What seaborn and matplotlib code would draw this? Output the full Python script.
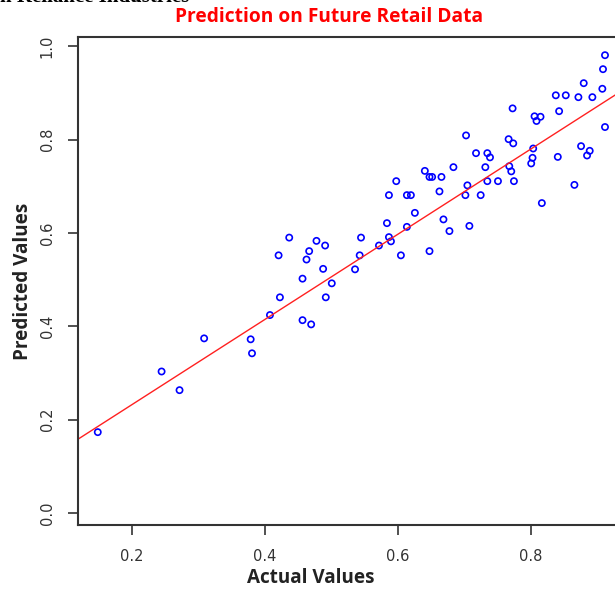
import numpy as np
import pandas as pd
import seaborn as sns
import matplotlib.pyplot as plt

# actual vs predicted values
actual = [0.912, 0.909, 0.880, 0.908, 0.838, 0.853, 0.872, 0.893, 0.773, 0.843,
          0.806, 0.815, 0.809, 0.912, 0.703, 0.767, 0.774, 0.876, 0.889, 0.885,
          0.804, 0.718, 0.735, 0.739, 0.841, 0.803, 0.801, 0.684, 0.732, 0.768,
          0.771, 0.641, 0.648, 0.652, 0.666, 0.598, 0.735, 0.751, 0.775, 0.705,
          0.866, 0.663, 0.587, 0.614, 0.620, 0.702, 0.725, 0.817, 0.626, 0.669,
          0.584, 0.614, 0.708, 0.678, 0.545, 0.587, 0.590, 0.572, 0.648, 0.543,
          0.605, 0.536,
          0.437, 0.478, 0.491, 0.467, 0.421, 0.463, 0.488, 0.457, 0.501, 0.423,
          0.492, 0.408, 0.457, 0.470, 0.309, 0.379, 0.381, 0.245, 0.272, 0.149]
predicted = [0.981, 0.951, 0.921, 0.909, 0.895, 0.895, 0.891, 0.891, 0.867, 0.861,
             0.850, 0.849, 0.840, 0.827, 0.809, 0.801, 0.792, 0.786, 0.776, 0.766,
             0.781, 0.771, 0.771, 0.762, 0.763, 0.761, 0.749, 0.741, 0.741, 0.743,
             0.732, 0.733, 0.720, 0.720, 0.720, 0.711, 0.711, 0.711, 0.711, 0.702,
             0.703, 0.689, 0.681, 0.681, 0.681, 0.681, 0.681, 0.664, 0.643, 0.629,
             0.621, 0.613, 0.615, 0.604, 0.590, 0.591, 0.582, 0.573, 0.561, 0.552,
             0.552, 0.522,
             0.590, 0.583, 0.573, 0.561, 0.552, 0.543, 0.523, 0.502, 0.492, 0.462,
             0.462, 0.424, 0.413, 0.404, 0.374, 0.372, 0.342, 0.303, 0.263, 0.173]
# fitted line shown on the chart (from the model, not refit here)
fit_intercept = 0.049
fit_slope = 0.913
x_ticks = [0.2, 0.4, 0.6, 0.8]
y_ticks = [0.0, 0.2, 0.4, 0.6, 0.8, 1.0]

df = pd.DataFrame({'actual': actual, 'predicted': predicted})

sns.set_style('white')
plt.rcParams['font.family'] = ['DejaVu Sans']

fig = plt.figure(figsize=(6.15, 5.9), dpi=100)
# plot box runs off the right edge like in the original screenshot
ax = fig.add_axes([0.1273, 0.1102, 0.8867, 0.8271])

sns.scatterplot(data=df, x='actual', y='predicted', ax=ax, marker='o', s=20,
                facecolors='none', edgecolor='blue', linewidth=1.2)
ax.axline((0, fit_intercept), slope=fit_slope, color='#ff2020', linewidth=1.0)

ax.set_xlim(0.1197, 0.94)
ax.set_ylim(-0.026, 1.02)
ax.set_xticks(x_ticks)
ax.set_yticks(y_ticks)
ax.set_xticklabels([f'{v:.1f}' for v in x_ticks])
ax.set_yticklabels([f'{v:.1f}' for v in y_ticks], rotation=90, va='center')
ax.tick_params(axis='both', direction='out', length=7, width=1.2, color='#333333',
               labelsize=10.5, labelcolor='#333333', bottom=True, left=True, pad=10)
for s in ax.spines.values():
    s.set_color('#333333')
    s.set_linewidth(1.5)

ax.set_xlabel('')
ax.set_ylabel('Predicted Values', fontsize=13.6, fontweight='bold', family='Open Sans',
              labelpad=5, color='#222222')
# x label sits left of the box centre in the original
fig.text(0.5057, 0.0203, 'Actual Values', ha='center', va='center',
         fontsize=13.6, fontweight='bold', family='Open Sans', color='#222222')

fig.text(0.535, 0.971, 'Prediction on Future Retail Data', color='red', ha='center', va='center',
         fontsize=13.8, fontweight='bold', family='Open Sans')
# clipped caption from the page above
fig.text(0.0, 0.9966, 'n Reliance Industries', color='black', ha='left', va='baseline',
         fontsize=15, fontweight='bold', family='Liberation Serif')

fig.savefig('out.png', dpi=100)
